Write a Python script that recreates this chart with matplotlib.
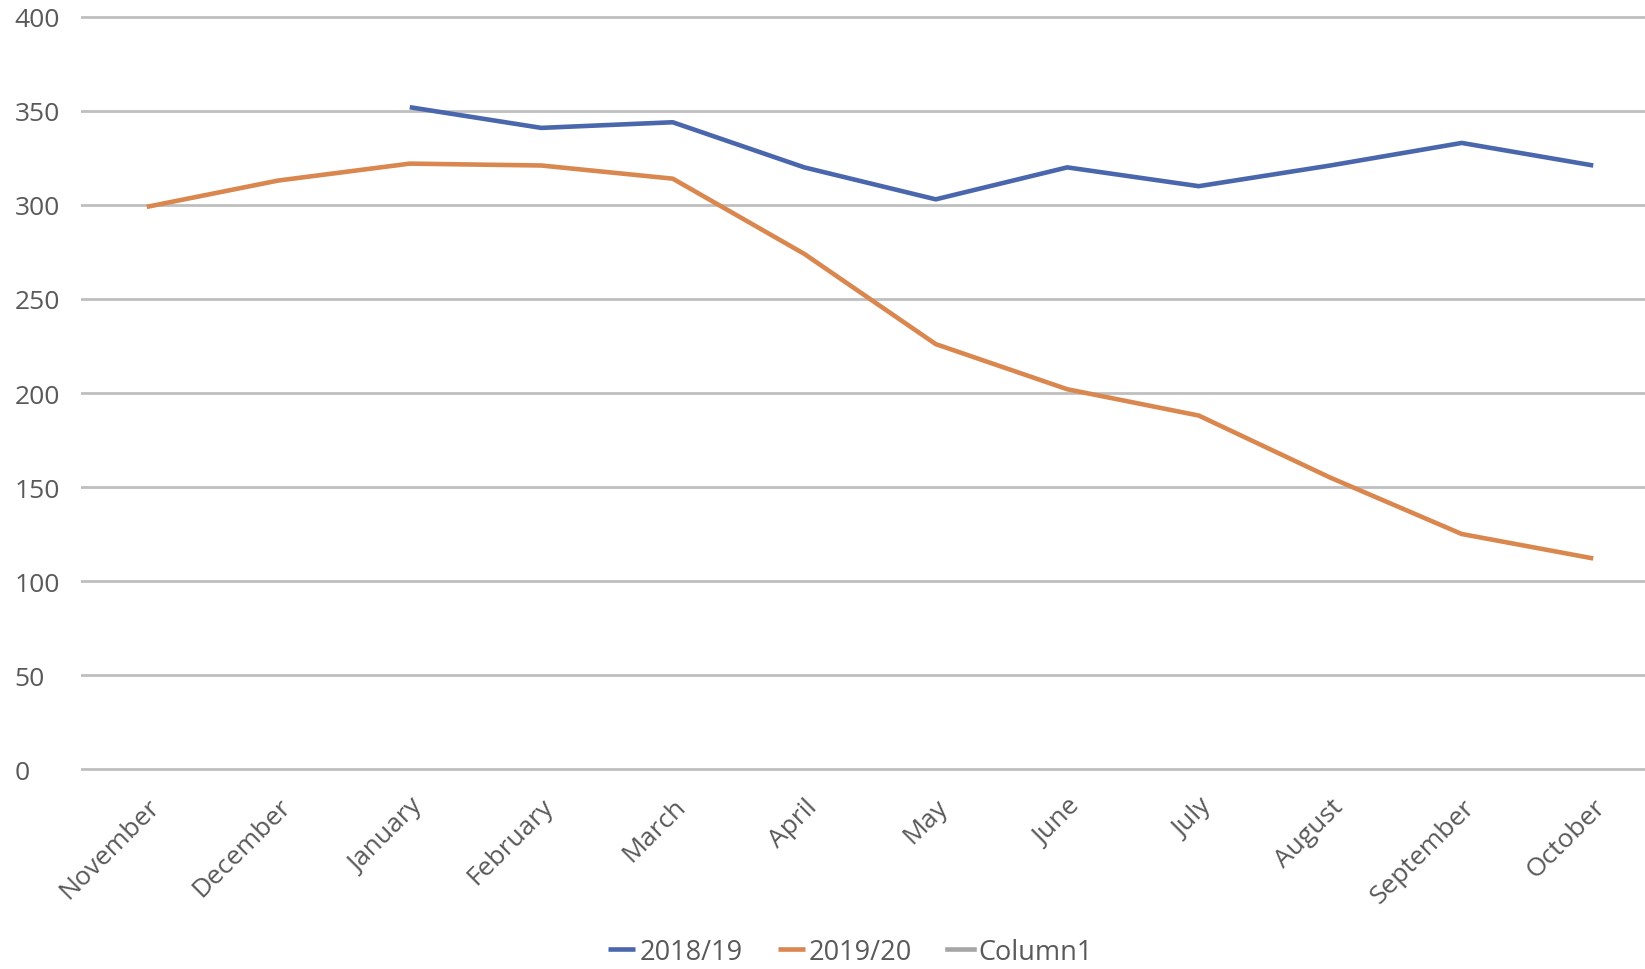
import numpy as np
import matplotlib.pyplot as plt

# Daten
months = ['November', 'December', 'January', 'February', 'March', 'April',
          'May', 'June', 'July', 'August', 'September', 'October']
values_1819 = [np.nan, np.nan, 352, 341, 344, 320, 303, 320, 310, 321, 333, 321]
values_1920 = [299, 313, 322, 321, 314, 274, 226, 202, 188, 155, 125, 112]
values_col1 = [np.nan] * 12
y_ticks = [0, 50, 100, 150, 200, 250, 300, 350, 400]

text_color = '#595959'
plt.rcParams['font.family'] = ['Open Sans', 'DejaVu Sans']

fig = plt.figure(figsize=(16.45, 9.7), dpi=100)
# Achse geht rechts etwas ueber den Bildrand hinaus (wie im Original)
ax = fig.add_axes([81 / 1645, (200 - 3.8) / 970, 1578 / 1645, (752 + 7.6) / 970])

x = np.arange(len(months))
ax.plot(x, values_1819, color='#4a67ad', linewidth=3.3, label='2018/19', solid_capstyle='butt')
ax.plot(x, values_1920, color='#d9874e', linewidth=3.3, label='2019/20', solid_capstyle='butt')
ax.plot(x, values_col1, color='#a5a5a5', linewidth=3.3, label='Column1')

ax.set_xlim(-0.5, len(months) - 0.5)
ax.set_ylim(-2, 402)
ax.set_yticks(y_ticks)
ax.yaxis.grid(True, color='#bfbfbf', linewidth=2)
ax.set_axisbelow(True)
for s in ax.spines.values():
    s.set_visible(False)

# Tick-Labels
ax.set_xticks(x)
ax.set_xticklabels(months, rotation=45, ha='right', rotation_mode='anchor')
ax.tick_params(axis='x', length=0, pad=15, labelsize=19, labelcolor=text_color)
ax.tick_params(axis='y', length=0, pad=48, labelsize=19, labelcolor=text_color)
for lbl in ax.get_yticklabels():
    lbl.set_horizontalalignment('left')

# Legende unten
fig.legend(loc='center', bbox_to_anchor=(0.517, 0.018), ncol=3, frameon=False,
           fontsize=19.5, labelcolor=text_color, handlelength=1.0,
           handletextpad=0.15, columnspacing=1.3)

plt.savefig('out.png', dpi=100)
